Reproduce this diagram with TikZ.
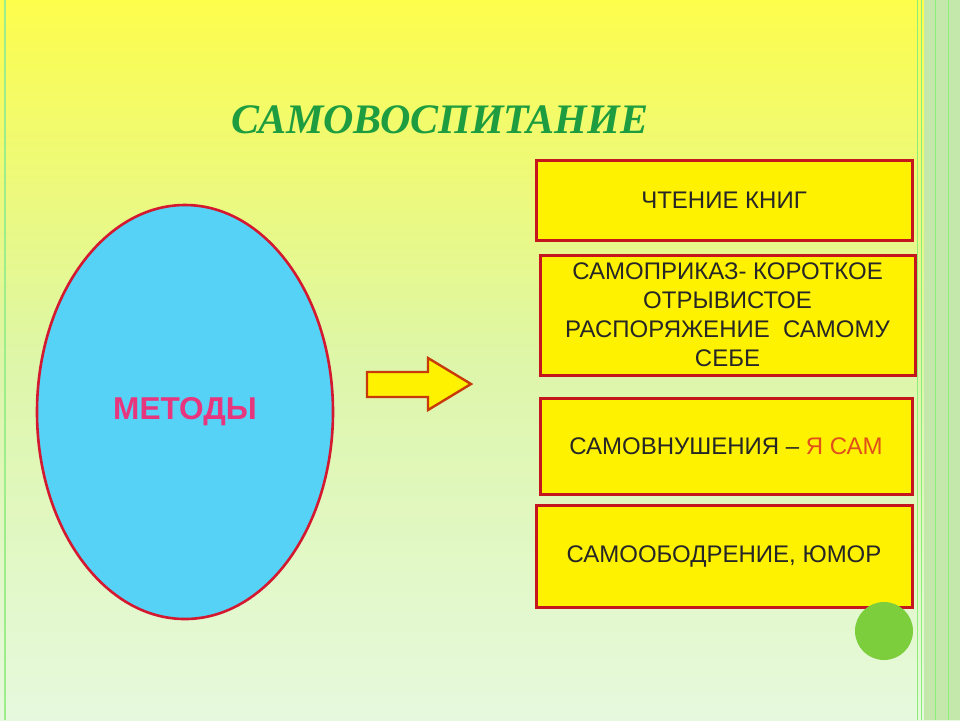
\documentclass[tikz,border=0pt]{standalone}
\usepackage{fontspec}
\setmainfont{Liberation Sans}
\newfontfamily\titlefont{Liberation Serif}
\usetikzlibrary{shapes.geometric}

\definecolor{bgtop}{HTML}{FDFD4C}
\definecolor{bgmid}{HTML}{DDF6A8}
\definecolor{bgbot}{HTML}{E6F9DE}
\definecolor{stripe}{HTML}{C4E8AC}
\definecolor{titlegreen}{HTML}{1E9C40}
\definecolor{ovalblue}{HTML}{55D2F6}
\definecolor{ovalred}{HTML}{D41830}
\definecolor{methodpink}{HTML}{E8367E}
\definecolor{boxred}{HTML}{C4161C}
\definecolor{arrowred}{HTML}{C83A08}
\definecolor{selfred}{HTML}{E0501A}
\definecolor{dotgreen}{HTML}{7CCE3C}

\begin{document}
\begin{tikzpicture}[x=0.5pt, y=-0.5pt]

    \tikzset{%
    method box/.style={
        rectangle,
        draw=boxred,
        line width=1.5pt,
        fill=yellow,
        align=center,
        text=black!85,
        font=\fontsize{12}{14.5}\selectfont
        },
    method oval/.style={
        ellipse,
        draw=ovalred,
        line width=1.3pt,
        fill=ovalblue,
        minimum width=148pt,
        minimum height=207pt
        },
    }

    % Background
    \useasboundingbox (0,0) rectangle (960,720);
    \shade [top color=bgtop, bottom color=bgbot, middle color=bgmid] (0,0) rectangle (960,720);
    \fill [stripe] (924,0) rectangle (960,720);
    \draw [stripe!80!green, line width=0.6pt] (5,0) -- (5,720);
    \foreach \x in {917,921,935,948}
    \draw [stripe!70!green, line width=0.4pt] (\x,0) -- (\x,720);

    % Title
    \node [text=titlegreen, font=\titlefont\bfseries\itshape\fontsize{21}{25}\selectfont] (title) at (440,120) {САМОВОСПИТАНИЕ};

    % Oval with label
    \node [method oval] (methods) at (185,412) {};
    \node [text=methodpink, font=\bfseries\fontsize{15.8}{19}\selectfont] (methods-label) at (methods.center) {МЕТОДЫ};

    % Arrow to the list
    \filldraw [fill=yellow, draw=arrowred, line width=1.2pt, line join=miter]
    (367,372) -- (428,372) -- (428,358) -- (471,384) -- (428,410) -- (428,397) -- (367,397) -- cycle;

    % Methods list
    \node [method box, minimum width=188pt, minimum height=40pt] (box-1) at (724,200) {ЧТЕНИЕ КНИГ};
    \node [method box, minimum width=187.5pt, minimum height=60pt] (box-2) at (727.5,315)
    {САМОПРИКАЗ- КОРОТКОЕ\\ОТРЫВИСТОЕ\\РАСПОРЯЖЕНИЕ~~САМОМУ\\СЕБЕ};
    \node [method box, minimum width=186pt, minimum height=48pt] (box-3) at (726,446)
    {САМОВНУШЕНИЯ – \textcolor{selfred}{Я САМ}};
    \node [method box, minimum width=188pt, minimum height=51pt] (box-4) at (724,556) {САМООБОДРЕНИЕ, ЮМОР};

    % Green dot
    \node [circle, fill=dotgreen, minimum size=29pt, inner sep=0pt] (dot) at (884,631) {};

\end{tikzpicture}
\end{document}
